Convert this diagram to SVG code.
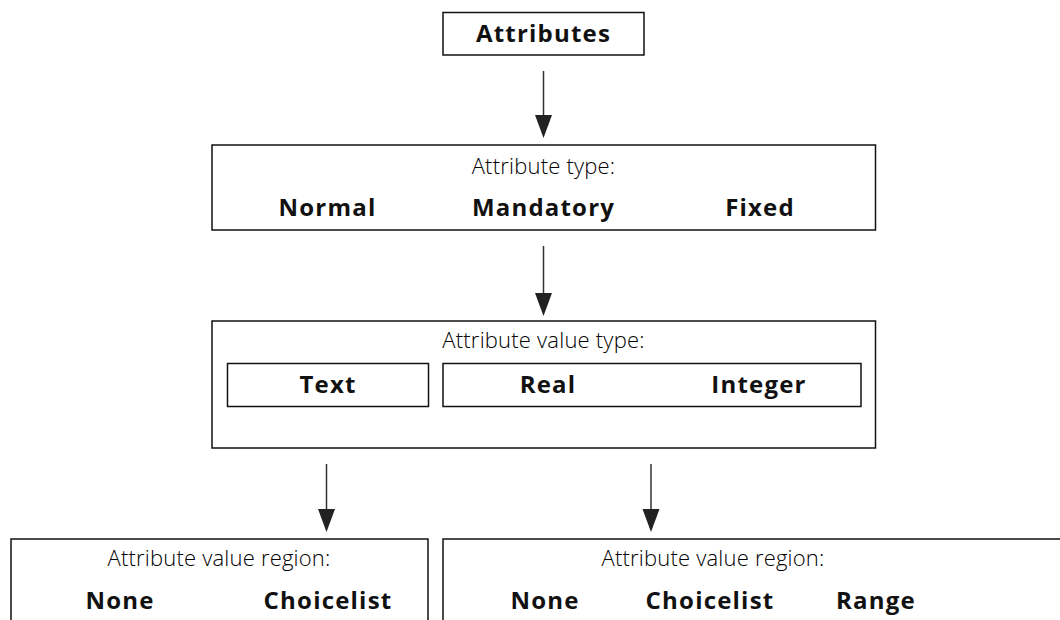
<svg xmlns="http://www.w3.org/2000/svg" width="1060" height="620" viewBox="0 0 1060 620">
<defs>
<style>
.box{fill:#fff;stroke:#111;stroke-width:1.5}
.lbl{font-family:"Open Sans","Noto Sans","Liberation Sans",sans-serif;font-weight:300;font-size:22px;fill:#000;text-anchor:middle;letter-spacing:0.2px}
.opt{font-family:"Open Sans","Noto Sans","Liberation Sans",sans-serif;font-weight:700;font-size:24px;fill:#111;text-anchor:middle;letter-spacing:1.2px}
.conn{stroke:#333;stroke-width:1.5;fill:none}
.head{fill:#222}
</style>
</defs>
<rect width="1060" height="620" fill="#fff"/>
<g id="connectors">
<line class="conn" x1="543.5" y1="71" x2="543.5" y2="116"/>
<path class="head" d="M535,115 L552,115 L543.5,138 Z"/>
<line class="conn" x1="543.5" y1="246" x2="543.5" y2="294"/>
<path class="head" d="M535,293 L552,293 L543.5,316 Z"/>
<line class="conn" x1="326.5" y1="464" x2="326.5" y2="510"/>
<path class="head" d="M318,509 L335,509 L326.5,532 Z"/>
<line class="conn" x1="651" y1="464" x2="651" y2="510"/>
<path class="head" d="M642.5,509 L659.5,509 L651,532 Z"/>
</g>
<g id="attributes">
<rect class="box" x="443" y="12.5" width="201" height="42.5"/>
<text class="opt" x="543.5" y="42">Attributes</text>
</g>
<g id="attribute-type">
<rect class="box" x="212" y="145" width="663.5" height="85"/>
<text class="lbl" x="543.5" y="174">Attribute type:</text>
<text class="opt" x="327.5" y="216">Normal</text>
<text class="opt" x="543.5" y="216">Mandatory</text>
<text class="opt" x="760" y="216">Fixed</text>
</g>
<g id="attribute-value-type">
<rect class="box" x="212" y="321" width="663.5" height="127"/>
<text class="lbl" x="543.5" y="348">Attribute value type:</text>
<g id="text-type">
<rect class="box" x="227.5" y="363.5" width="201" height="43"/>
<text class="opt" x="328" y="393">Text</text>
</g>
<g id="numeric-type">
<rect class="box" x="443" y="363.5" width="418" height="43"/>
<text class="opt" x="548" y="393">Real</text>
<text class="opt" x="759" y="393">Integer</text>
</g>
</g>
<g id="region-text">
<rect class="box" x="11" y="539" width="417" height="100"/>
<text class="lbl" x="219" y="566">Attribute value region:</text>
<text class="opt" x="120" y="609">None</text>
<text class="opt" x="328" y="609">Choicelist</text>
</g>
<g id="region-numeric">
<rect class="box" x="443" y="539" width="640" height="100"/>
<text class="lbl" x="713" y="566">Attribute value region:</text>
<text class="opt" x="545" y="609">None</text>
<text class="opt" x="710" y="609">Choicelist</text>
<text class="opt" x="876" y="609">Range</text>
</g>
</svg>
